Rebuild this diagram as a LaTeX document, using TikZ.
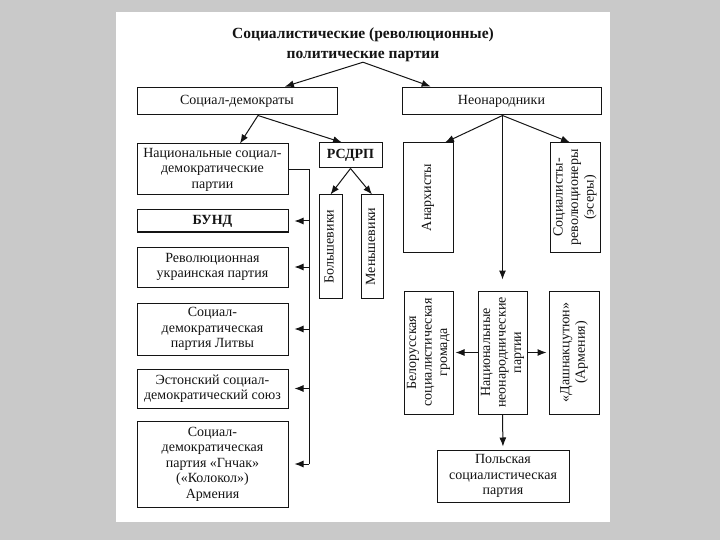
\documentclass[tikz,border=0pt]{standalone}
\usepackage{fontspec}
\setmainfont{Liberation Serif}
\usetikzlibrary{arrows.meta,calc}
\definecolor{bggray}{RGB}{201,201,201}
\definecolor{ink}{RGB}{20,20,20}
\newcommand{\myvt}[1]{\rotatebox{90}{\begin{tabular}{@{}c@{}}#1\end{tabular}}}
\begin{document}
\begin{tikzpicture}[x=1pt,y=-1pt,
  box/.style={draw=ink,line width=1pt,fill=white,inner sep=0pt,align=center,
    font=\fontsize{14}{15.5}\selectfont,text=ink},
  arr/.style={draw=ink,line width=1pt,-{Latex[length=9pt,width=7pt]}},
  ln/.style={draw=ink,line width=1pt}]
\useasboundingbox (0,0) rectangle (720,540);
\fill[bggray] (0,0) rectangle (720,540);
\fill[white] (116,12) rectangle (610,522);

\node[font=\bfseries\fontsize{15.5}{20}\selectfont,align=center,inner sep=0pt,text=ink] (title) at (363,45)
  {Социалистические (революционные)\\политические партии};

\node[box,minimum width=200pt,minimum height=27pt] (sd) at (237,101.5) {Социал-демократы};
\node[box,minimum width=199pt,minimum height=27pt] (neo) at (501.5,101.5) {Неонародники};

\node[box,minimum width=151pt,minimum height=51pt] (nat) at (212.5,169.5) {Национальные социал-\\демократические\\партии};
\node[box,minimum width=63pt,minimum height=25pt] (rsdrp) at (350.5,155.5) {\bfseries РСДРП};
\node[box,minimum width=23pt,minimum height=103pt] (bol) at (330.5,246.5) {\myvt{Большевики}};
\node[box,minimum width=22pt,minimum height=103pt] (men) at (372,246.5) {\myvt{Меньшевики}};

\node[box,minimum width=151pt,minimum height=22pt] (bund) at (212.5,221) {\bfseries БУНД};
\node[box,minimum width=151pt,minimum height=40pt] (ukr) at (212.5,267) {Революционная\\украинская партия};
\node[box,minimum width=151pt,minimum height=52pt] (lit) at (212.5,329) {Социал-\\демократическая\\партия Литвы};
\node[box,minimum width=151pt,minimum height=39pt] (est) at (212.5,388.5) {Эстонский социал-\\демократический союз};
\node[box,minimum width=151pt,minimum height=86pt] (gn) at (212.5,464) {Социал-\\демократическая\\партия «Гнчак»\\(«Колокол»)\\Армения};

\node[box,minimum width=50pt,minimum height=109pt] (anar) at (428,197.5) {\myvt{Анархисты}};
\node[box,minimum width=50pt,minimum height=109pt] (sr) at (575,197.5) {\myvt{Социалисты-\\революционеры\\(эсеры)}};

\node[box,minimum width=49pt,minimum height=123pt] (bel) at (428.5,352.5) {\myvt{Белорусская\\социалистическая\\громада}};
\node[box,minimum width=49pt,minimum height=123pt] (natn) at (502.5,352.5) {\myvt{Национальные\\неонароднические\\партии}};
\node[box,minimum width=50pt,minimum height=123pt] (dash) at (574,352.5) {\myvt{«Дашнакцутюн»\\(Армения)}};
\node[box,minimum width=132pt,minimum height=52pt] (pol) at (503,476) {Польская\\социалистическая\\партия};

% title arrows
\draw[arr,shorten >=3pt] (title.south) -- ([xshift=45pt]sd.north);
\draw[arr,shorten >=3pt] (title.south) -- ([xshift=-68pt]neo.north);

% social democrats
\draw[arr] ([xshift=21pt]sd.south) -- ([xshift=27.5pt]nat.north);
\draw[arr] ([xshift=21pt]sd.south) -- ([xshift=-8.5pt]rsdrp.north);
\draw[arr] (rsdrp.south) -- (bol.north);
\draw[arr] (rsdrp.south) -- (men.north);

% bracket
\coordinate (bx) at (309,0);
\draw[ln] (nat.east) -- (nat.east -| bx) -- (bx |- gn.east);
\foreach \n in {bund,ukr,lit,est,gn}
  \draw[arr,shorten >=6pt] (bx |- \n.east) -- (\n.east);

% neonarodniki
\coordinate (nb) at ([xshift=1pt]neo.south);
\draw[arr] (nb) -- ([xshift=17pt]anar.north);
\draw[arr] (nb) -- ([xshift=-5pt]sr.north);
\draw[arr,shorten >=11pt] (nb) -- (nb |- natn.north);

\draw[arr,shorten >=2pt] (natn.west) -- (bel.east);
\draw[arr,shorten >=2pt] (natn.east) -- (dash.west);
\draw[arr,shorten >=3pt] (natn.south) -- (pol.north);
\end{tikzpicture}
\end{document}
